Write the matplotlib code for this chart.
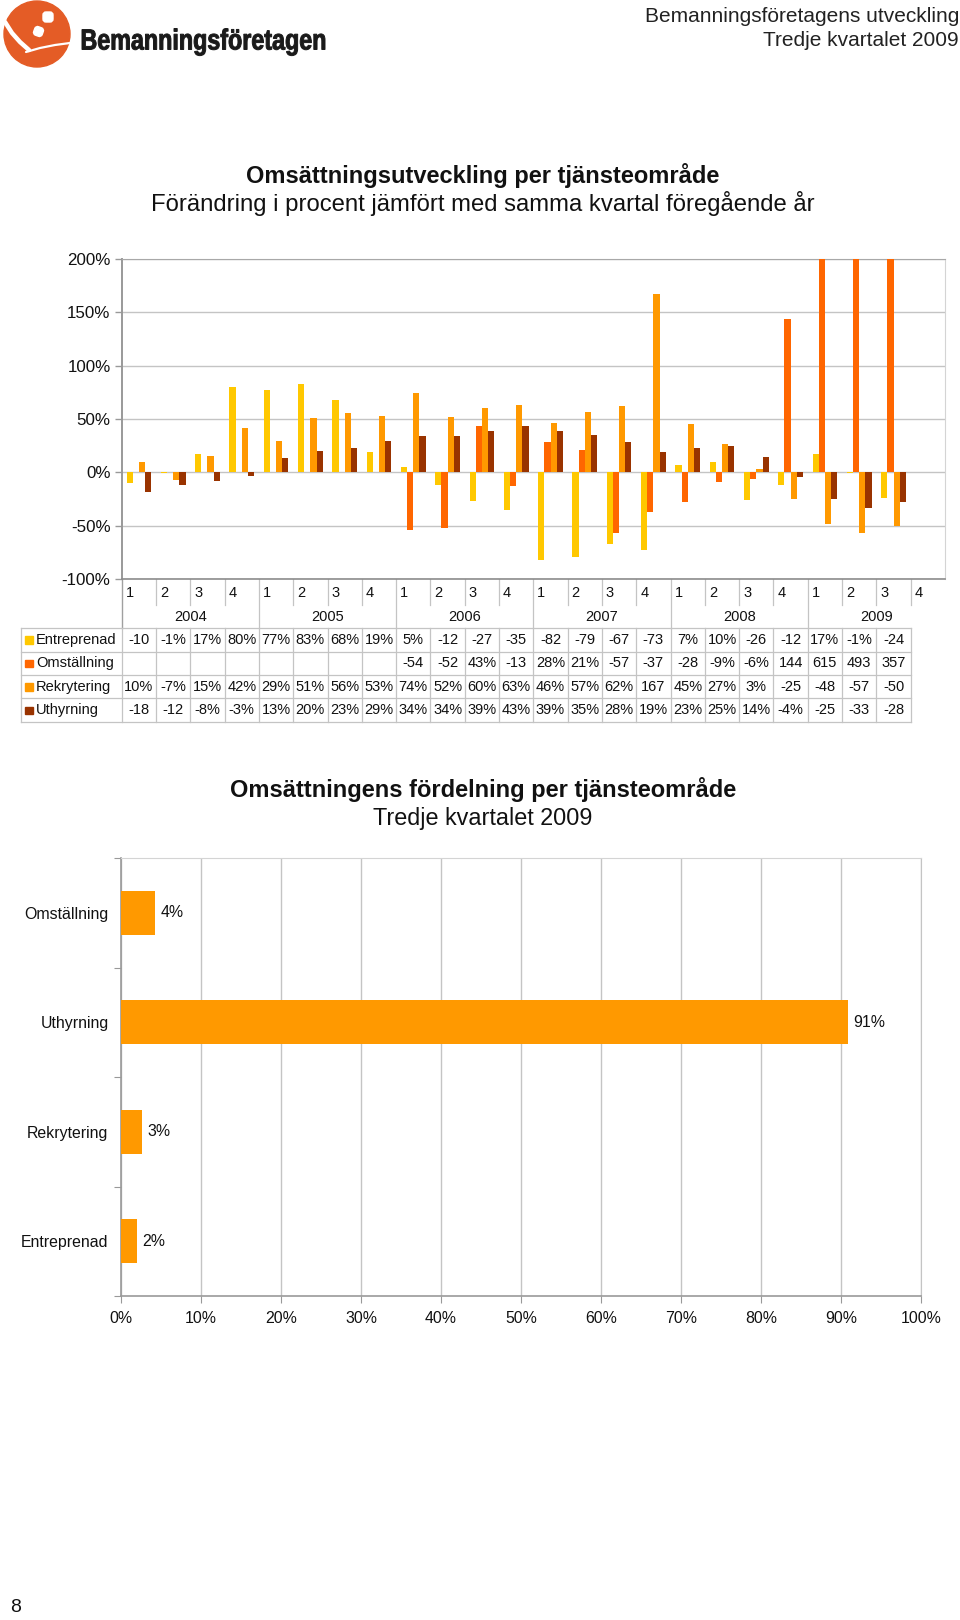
import numpy as np
import matplotlib
matplotlib.use("Agg")
import matplotlib.pyplot as plt
from matplotlib.patches import Circle, FancyBboxPatch, PathPatch, Rectangle
from matplotlib.textpath import TextPath
from matplotlib.font_manager import FontProperties
from matplotlib.transforms import Affine2D

plt.rcParams['font.family'] = ['Liberation Sans', 'DejaVu Sans']

# ---------------- data ----------------
years = ['2004', '2005', '2006', '2007', '2008', '2009']
quarters = ['1', '2', '3', '4']
series_names = ['Entreprenad', 'Omställning', 'Rekrytering', 'Uthyrning']
series_colors = ['#FFC800', '#FF6600', '#FF9900', '#993300']

entreprenad = [-10, -1, 17, 80, 77, 83, 68, 19, 5, -12, -27, -35,
               -82, -79, -67, -73, 7, 10, -26, -12, 17, -1, -24, None]
omstallning = [None, None, None, None, None, None, None, None, -54, -52, 43, -13,
               28, 21, -57, -37, -28, -9, -6, 144, 615, 493, 357, None]
rekrytering = [10, -7, 15, 42, 29, 51, 56, 53, 74, 52, 60, 63,
               46, 57, 62, 167, 45, 27, 3, -25, -48, -57, -50, None]
uthyrning = [-18, -12, -8, -3, 13, 20, 23, 29, 34, 34, 39, 43,
             39, 35, 28, 19, 23, 25, 14, -4, -25, -33, -28, None]
series_values = [entreprenad, omstallning, rekrytering, uthyrning]

y_ticks_top = [-100, -50, 0, 50, 100, 150, 200]

share_categories = ['Omställning', 'Uthyrning', 'Rekrytering', 'Entreprenad']
share_values = [4.3, 90.9, 2.6, 2.0]
share_color = '#FF9900'
x_ticks_bottom = [0, 10, 20, 30, 40, 50, 60, 70, 80, 90, 100]

# ---------------- layout helpers ----------------
W, H = 960, 1620
fig = plt.figure(figsize=(W / 100, H / 100), dpi=100)
fig.patch.set_facecolor('white')


def rect(l, t, r, b):
    return [l / W, 1 - b / H, (r - l) / W, (b - t) / H]


ov = fig.add_axes([0, 0, 1, 1], zorder=0)
ov.set_xlim(0, W)
ov.set_ylim(H, 0)
ov.axis('off')

GRID = '#C4C4C4'
TXT = '#111111'

# ---------------- header ----------------
ov.add_patch(Circle((37, 34), 33, color='#E45C26', zorder=2))
ov.plot([5, 12, 20, 29], [22, 33, 42, 50], color='white', lw=3.2, solid_capstyle='round', zorder=3)
ov.plot([26, 40, 55, 70], [52, 48, 45, 43], color='white', lw=1.6, solid_capstyle='round', zorder=3)
ov.add_patch(FancyBboxPatch((43, 12), 10, 10, boxstyle='round,pad=0,rounding_size=3',
                            color='white', zorder=3))
ov.add_patch(FancyBboxPatch((34, 27), 9, 9, boxstyle='round,pad=0,rounding_size=3',
                            color='white', zorder=3,
                            transform=Affine2D().rotate_deg_around(38.5, 31.5, 20) + ov.transData))
tp = TextPath((0, 0), 'Bemanningsföretagen', size=29,
              prop=FontProperties(family='Liberation Sans', weight='bold'))
ext = tp.get_extents()
sx = 243 / ext.width
ov.add_patch(PathPatch(tp, transform=Affine2D().scale(sx, -1).translate(82 - ext.x0 * sx, 49.5) + ov.transData,
                       facecolor='#1a1a1a', edgecolor='#1a1a1a', lw=0.7, zorder=3))

ov.text(959, 16, 'Bemanningsföretagens utveckling', ha='right', va='center',
        fontsize=15, color='#222222')
ov.text(959, 40, 'Tredje kvartalet 2009', ha='right', va='center',
        fontsize=15, color='#222222')

# ---------------- top chart ----------------
ov.text(483, 176, 'Omsättningsutveckling per tjänsteområde', ha='center', va='center',
        fontsize=17, fontweight='bold', color=TXT)
ov.text(483, 204, 'Förändring i procent jämfört med samma kvartal föregående år', ha='center',
        va='center', fontsize=17.2, color=TXT)

L1, T1, R1, B1 = 121.7, 259, 945, 579
ax1 = fig.add_axes(rect(L1, T1, R1, B1), zorder=1)
n = len(entreprenad)
bw = 0.18
for k, (vals, col) in enumerate(zip(series_values, series_colors)):
    idx = [i for i, v in enumerate(vals) if v is not None]
    hv = [vals[i] for i in idx]
    ax1.bar(np.array(idx) + (k - 1.5) * bw, hv, width=bw, color=col, linewidth=0, zorder=3)
ax1.set_xlim(-0.5, n - 0.5)
ax1.set_ylim(y_ticks_top[0], y_ticks_top[-1])
ax1.set_yticks(y_ticks_top)
ax1.set_yticklabels([f'{t}%' for t in y_ticks_top], fontsize=12.2, color=TXT)
ax1.set_xticks([])
ax1.yaxis.grid(True, color=GRID, lw=1.0, zorder=0)
ax1.set_axisbelow(True)
ax1.tick_params(axis='y', length=5, width=1, color='#999999', pad=3)
ax1.spines['left'].set_color('#999999')
ax1.spines['left'].set_linewidth(1.4)
ax1.spines['bottom'].set_color('#8C8C8C')
ax1.spines['bottom'].set_linewidth(1.2)
ax1.spines['top'].set_color('#A8A8A8')
ax1.spines['right'].set_color('#D4D4D4')

# data table below the top chart
colw = (R1 - L1) / n
TL = 20.7
row_top = 628.3
row_h = 23.35
lc = dict(color=GRID, lw=0.9, zorder=1)
FS_T = 10.5

# quarter row & year row
for i in range(n):
    x0 = L1 + i * colw
    ov.text(x0 + 4, 593, quarters[i % 4], ha='left', va='center', fontsize=FS_T, color=TXT)
    if i > 0:
        yb = row_top if i % 4 == 0 else 605
        ov.plot([x0, x0], [B1, yb], **lc)
ov.plot([L1, L1], [B1, row_top], color='#A0A0A0', lw=1.0, zorder=1)
for j, yr in enumerate(years):
    ov.text(L1 + (4 * j + 2) * colw, 617, yr, ha='center', va='center', fontsize=FS_T, color=TXT)

# data rows
ncols_data = max(i for vals in series_values for i, v in enumerate(vals) if v is not None) + 1
x_right = L1 + ncols_data * colw
for r in range(len(series_names) + 1):
    y = row_top + r * row_h
    ov.plot([TL, x_right], [y, y], **lc)
y_bottom = row_top + len(series_names) * row_h
ov.plot([TL, TL], [row_top, y_bottom], **lc)
for i in range(ncols_data + 1):
    x = L1 + i * colw
    ov.plot([x, x], [row_top, y_bottom], **lc)


def cell_text(v):
    if v is None:
        return ''
    s = f'{v}%'
    return s if len(s) <= 3 else f'{v}'


for r, (name, vals, col) in enumerate(zip(series_names, series_values, series_colors)):
    yc = row_top + (r + 0.5) * row_h
    ov.add_patch(Rectangle((25, yc - 3.5), 7.5, 7.5, color=col, zorder=2))
    ov.text(36, yc, name, ha='left', va='center', fontsize=FS_T, color=TXT)
    for i, v in enumerate(vals[:ncols_data]):
        ov.text(L1 + (i + 0.5) * colw, yc, cell_text(v), ha='center', va='center',
                fontsize=FS_T, color=TXT)

# ---------------- bottom chart ----------------
ov.text(483, 789, 'Omsättningens fördelning per tjänsteområde', ha='center', va='center',
        fontsize=17, fontweight='bold', color=TXT)
ov.text(483, 819, 'Tredje kvartalet 2009', ha='center', va='center', fontsize=16.8, color=TXT)

ax2 = fig.add_axes(rect(121, 858, 921, 1296), zorder=1)
ypos = np.arange(len(share_categories))
ax2.barh(ypos, share_values, height=0.4, color=share_color, linewidth=0, zorder=3)
for yv, v in zip(ypos, share_values):
    ax2.text(v + 0.65, yv, f'{v:.0f}%', ha='left', va='center', fontsize=11.4, color=TXT)
ax2.set_xlim(x_ticks_bottom[0], x_ticks_bottom[-1])
ax2.set_ylim(len(share_categories) - 0.5, -0.5)
ax2.set_xticks(x_ticks_bottom)
ax2.set_xticklabels([f'{t}%' for t in x_ticks_bottom], fontsize=11.4, color=TXT)
ax2.set_yticks(np.arange(len(share_categories) + 1) - 0.5)
ax2.set_yticklabels([])
ax2.set_yticks(ypos, minor=True)
ax2.set_yticklabels(share_categories, minor=True, fontsize=11.4, color=TXT)
ax2.tick_params(axis='y', which='minor', length=0, pad=9)
ax2.tick_params(axis='y', which='major', length=5, color='#999999')
ax2.tick_params(axis='x', length=5, color='#999999', pad=6)
ax2.xaxis.grid(True, color=GRID, lw=1.0, zorder=0)
ax2.set_axisbelow(True)
ax2.spines['left'].set_color('#999999')
ax2.spines['left'].set_linewidth(1.2)
ax2.spines['bottom'].set_color('#999999')
ax2.spines['bottom'].set_linewidth(1.2)
ax2.spines['top'].set_color('#D4D4D4')
ax2.spines['right'].set_color(GRID)

# page number
ov.text(10, 1608, '8', ha='left', va='center', fontsize=14, color=TXT)

fig.savefig('out.png', dpi=100, facecolor='white')
